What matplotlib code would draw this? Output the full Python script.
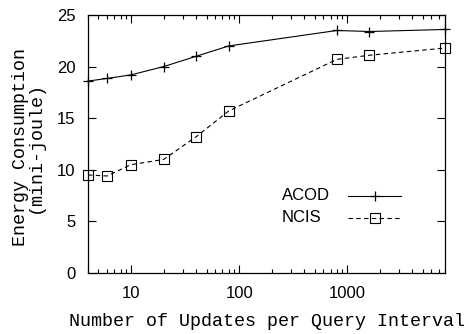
import matplotlib
matplotlib.use("Agg")
import matplotlib.pyplot as plt
from matplotlib.lines import Line2D
from matplotlib.ticker import LogLocator, FixedLocator, NullFormatter

updates = [4, 6, 10, 20, 40, 80, 800, 1600, 8000]
acod = [18.6, 18.85, 19.2, 20.0, 21.0, 22.0, 23.5, 23.4, 23.6]
ncis = [9.5, 9.4, 10.5, 11.0, 13.2, 15.7, 20.7, 21.1, 21.8]
series_names = ['ACOD', 'NCIS']
xticks = [10, 100, 1000]
yticks = [0, 5, 10, 15, 20, 25]

W, H = 469, 334
fig = plt.figure(figsize=(W/100, H/100), dpi=100)
L, R, T, B = 88, 445, 15, 273
ax = fig.add_axes([L/W, 1-B/H, (R-L)/W, (B-T)/H])

styles = [dict(color='black', lw=0.8, ls='-', marker='+', ms=7, mew=0.9),
          dict(color='black', lw=0.8, ls=(0, (4, 3)), marker='s', ms=7, mfc='none', mew=0.8)]

for vals, st in zip([acod, ncis], styles):
    ax.plot(updates, vals, clip_on=False, **st)

ax.set_xscale('log')
ax.set_xlim(4, 8000)
ax.set_ylim(0, 25)
ax.xaxis.set_major_locator(FixedLocator(xticks))
ax.set_xticklabels([str(t) for t in xticks])
ax.xaxis.set_minor_locator(LogLocator(base=10, subs=range(2, 10)))
ax.xaxis.set_minor_formatter(NullFormatter())
ax.set_yticks(yticks)

for lab in ax.get_xticklabels() + ax.get_yticklabels():
    lab.set_fontfamily('Liberation Sans')
    lab.set_fontsize(12)

ax.tick_params(which='major', direction='in', length=6, width=0.8, top=True, right=True, pad=9)
ax.tick_params(which='minor', direction='in', length=3, width=0.8, top=True, right=True)
for s in ax.spines.values():
    s.set_linewidth(0.9)

ax.set_xlabel('Number of Updates per Query Interval', family='Liberation Mono', fontsize=13.2,
              va='center')
ax.xaxis.set_label_coords(0.5, (B-321)/(B-T))
ax.set_ylabel('Energy Consumption\n(mini-joule)', family='Liberation Mono', fontsize=13.2,
              linespacing=0.85, va='center')
ax.yaxis.set_label_coords((28-L)/(R-L), 0.49)

# gnuplot-style key: text left, sample line to the right
def px2ax(x, y):
    return (x-L)/(R-L), (B-y)/(B-T)

for i, (name, st) in enumerate(zip(series_names, styles)):
    yc = 196 + 22*i
    tx, ty = px2ax(282, yc)
    ax.text(tx, ty, name, transform=ax.transAxes, family='Liberation Sans', fontsize=12,
            ha='left', va='center')
    x0, y0 = px2ax(348, yc)
    x1, _ = px2ax(401, yc)
    xm, _ = px2ax(374.5, yc)
    lst = {k: v for k, v in st.items() if not k.startswith('m')}
    ax.add_line(Line2D([x0, x1], [y0, y0], transform=ax.transAxes, **lst))
    ax.add_line(Line2D([xm], [y0], transform=ax.transAxes, color='black', ls='none',
                       marker=st['marker'], ms=st['ms'], mew=st['mew'],
                       mfc=st.get('mfc', 'black')))

fig.savefig('out.png', dpi=100)
